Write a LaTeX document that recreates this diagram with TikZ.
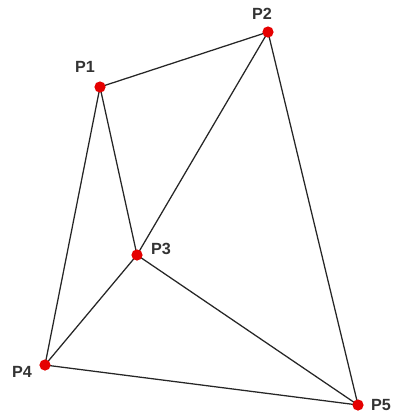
\documentclass[tikz,border=0pt]{standalone}
\usepackage{fontspec}
\setmainfont{Liberation Sans}
\begin{document}
\begin{tikzpicture}[x=0.025cm,y=-0.025cm,
  dot/.style={circle,fill=red!90!black,inner sep=0pt,minimum size=0.28cm},
  edge/.style={draw=black!85,line width=0.9pt},
  lbl/.style={text=black!80,font=\bfseries\fontsize{11.5}{13}\selectfont}]
\useasboundingbox (0,0) rectangle (399,416);
\coordinate (P1) at (100,87);
\coordinate (P2) at (268,32);
\coordinate (P3) at (137,255);
\coordinate (P4) at (45,365);
\coordinate (P5) at (358,405);

\draw[edge] (P1) -- (P2);
\draw[edge] (P1) -- (P3);
\draw[edge] (P1) -- (P4);
\draw[edge] (P2) -- (P3);
\draw[edge] (P2) -- (P5);
\draw[edge] (P3) -- (P4);
\draw[edge] (P3) -- (P5);
\draw[edge] (P4) -- (P5);

\node[dot] (d1) at (P1) {};
\node[dot] (d2) at (P2) {};
\node[dot] (d3) at (P3) {};
\node[dot] (d4) at (P4) {};
\node[dot] (d5) at (P5) {};

\node[lbl] (l1) at (85,67) {P1};
\node[lbl] (l2) at (262,14) {P2};
\node[lbl] (l3) at (161,249) {P3};
\node[lbl] (l4) at (22,372) {P4};
\node[lbl] (l5) at (381,405) {P5};
\end{tikzpicture}
\end{document}
